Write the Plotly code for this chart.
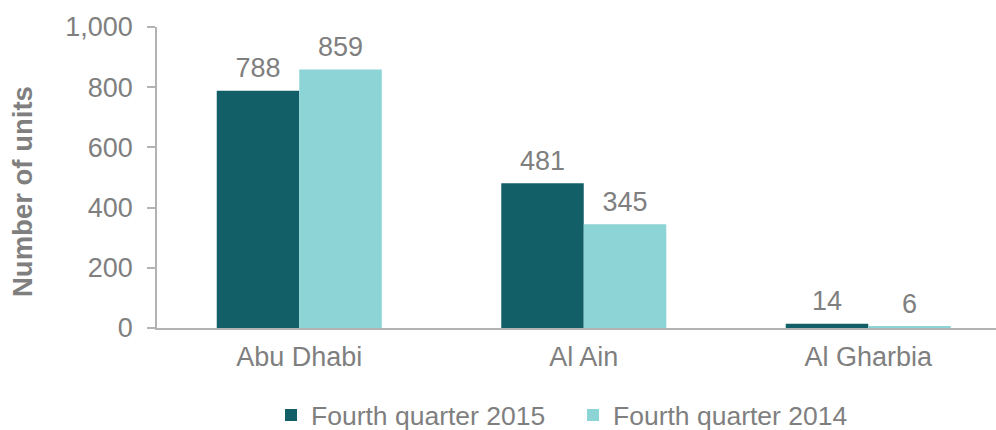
import plotly.graph_objects as go

categories = ["Abu Dhabi", "Al Ain", "Al Gharbia"]
q4_2015 = [788, 481, 14]
q4_2014 = [859, 345, 6]
series_names = ["Fourth quarter 2015", "Fourth quarter 2014"]
y_ticks = [0, 200, 400, 600, 800, 1000]
y_tick_labels = ["0", "200", "400", "600", "800", "1,000"]

DARK = "#135F67"
LIGHT = "#8CD4D6"
TEXT = "#7F7F7F"
AXIS = "#B3B3B3"
FONT = "Liberation Sans, Arial, sans-serif"

fig = go.Figure()
for name, vals, col in [(series_names[0], q4_2015, DARK), (series_names[1], q4_2014, LIGHT)]:
    fig.add_trace(go.Bar(
        x=categories, y=vals, name=name, marker=dict(color=col, line=dict(width=0)),
        offsetgroup=name,
    ))
for name, vals in [(series_names[0], q4_2015), (series_names[1], q4_2014)]:
    fig.add_trace(go.Scatter(
        x=categories, y=vals, mode="markers+text", text=[str(v) for v in vals],
        textposition="top center", marker=dict(size=9, opacity=0),
        textfont=dict(size=27, color=TEXT, family=FONT),
        showlegend=False, hoverinfo="skip", offsetgroup=name, cliponaxis=False,
    ))

fig.update_layout(
    width=996, height=430,
    margin=dict(l=157, r=0, t=27, b=102, autoexpand=False),
    paper_bgcolor="white", plot_bgcolor="white",
    barmode="group", bargap=0.42, bargroupgap=0,
    scattermode="group", scattergap=0.42,
    font=dict(family=FONT, size=27, color=TEXT),
    showlegend=True,
    legend=dict(orientation="h", x=(271 - 157) / 839, xanchor="left", y=-0.29, yanchor="middle",
                font=dict(size=26.5, color=TEXT, family=FONT),
                entrywidth=257, entrywidthmode="pixels",
                traceorder="normal"),
    xaxis=dict(
        type="category", range=[-0.5, 2.449], showline=True, linecolor=AXIS, linewidth=1.5,
        ticks="", showgrid=False, zeroline=False, tickfont=dict(size=27, color=TEXT),
        ticklabelstandoff=4, automargin=False,
    ),
    yaxis=dict(
        range=[0, 1000], tickvals=y_ticks, ticktext=y_tick_labels, showline=True,
        linecolor=AXIS, linewidth=1.5, ticks="outside", ticklen=8, tickcolor=AXIS, tickwidth=1.5,
        showgrid=False, zeroline=False, tickfont=dict(size=27, color=TEXT),
        ticklabelstandoff=9, automargin=False,
    ),
    annotations=[dict(
        text="<b>Number of units</b>", textangle=-90, xref="paper", yref="paper",
        x=(23 - 157) / 839, y=(328 - 192) / 301, xanchor="center", yanchor="middle",
        showarrow=False, font=dict(size=27.5, color=TEXT, family=FONT),
    )],
)

fig.write_html("out.html", config={"displayModeBar": False},
               post_script="document.body.style.margin='0';document.body.style.padding='0';")
